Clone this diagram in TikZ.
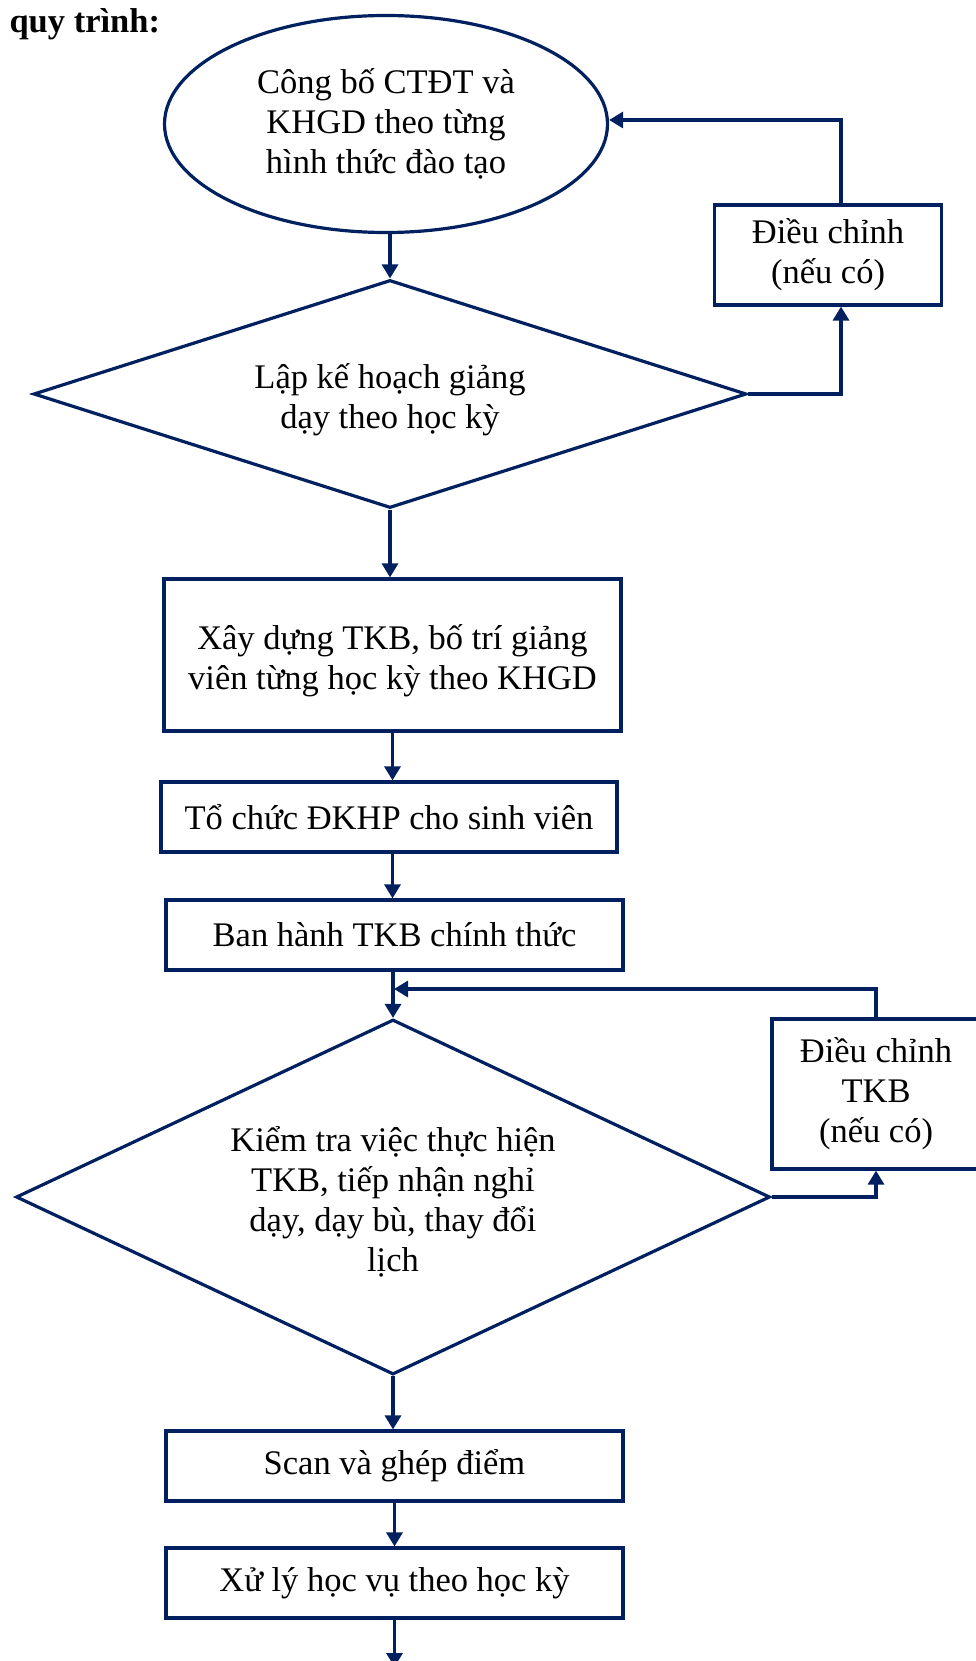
\documentclass[tikz,border=0pt]{standalone}
\usepackage{fontspec}
\setmainfont{Liberation Serif}
\usetikzlibrary{shapes.geometric,arrows.meta,calc}
\definecolor{navy}{RGB}{0,32,96}
\newcommand{\lowtext}[1]{\begin{tabular}{@{}c@{}}\rule{0pt}{40pt}#1\end{tabular}}
\begin{document}
\begin{tikzpicture}[x=1pt,y=-1pt,
  every node/.style={font=\fontsize{34.5}{40}\selectfont, align=center, text=black},
  ln/.style={draw=navy, line width=3.2pt},
  arr/.style={ln, -{Triangle[width=16pt,length=14pt]}},
  procbox/.style={ln, rectangle, inner sep=0pt},
  decide/.style={ln, diamond, inner sep=0pt},
  startshape/.style={ln, ellipse, inner sep=0pt}]
\useasboundingbox (0,0) rectangle (976,1661);
\node[anchor=base west, font=\fontsize{34.5}{40}\selectfont\bfseries] (title) at (6,33) {quy trình:};
\node[startshape, minimum width=443pt, minimum height=217pt] (e) at (386,124) {Công bố CTĐT và\\KHGD theo từng\\hình thức đào tạo};
\node[decide, aspect=3.127, minimum width=713pt, minimum height=228pt] (d1) at (390,394) {\lowtext{Lập kế hoạch giảng\\dạy theo học kỳ}};
\node[procbox, minimum width=227pt, minimum height=100pt] (a1) at (828,255) {Điều chỉnh\\(nếu có)};
\node[procbox, minimum width=457pt, minimum height=152pt] (b1) at (392.5,655) {\lowtext{Xây dựng TKB, bố trí giảng\\viên từng học kỳ theo KHGD}};
\node[procbox, minimum width=456pt, minimum height=70pt] (b2) at (389,817) {Tổ chức ĐKHP cho sinh viên};
\node[procbox, minimum width=457pt, minimum height=70pt] (b3) at (394.5,935) {Ban hành TKB chính thức};
\node[decide, aspect=2.124, minimum width=754pt, minimum height=355pt] (d2) at (393,1197) {\lowtext{Kiểm tra việc thực hiện\\TKB, tiếp nhận nghỉ\\dạy, dạy bù, thay đổi\\lịch}};
\node[procbox, minimum width=208pt, minimum height=150pt] (a2) at (876,1094) {Điều chỉnh\\TKB\\(nếu có)};
\node[procbox, minimum width=457pt, minimum height=70pt] (c1) at (394.5,1466) {Scan và ghép điểm};
\node[procbox, minimum width=457pt, minimum height=70pt] (c2) at (394.5,1583) {Xử lý học vụ theo học kỳ};
\coordinate (j) at (394,989);
\coordinate (endpt) at (394.5,1667);
% main flow
\draw[arr] (d1.north |- e.south) -- (d1.north);
\draw[arr] (d1.south) -- (d1.south |- b1.north);
\draw[arr] (b1.south) -- (b1.south |- b2.north);
\draw[arr] (b1.south |- b2.south) -- (b1.south |- b3.north);
\draw[arr] (d2.north |- b3.south) -- (d2.north);
\draw[arr] (d2.south) -- (d2.south |- c1.north);
\draw[arr] (c1.south) -- (c2.north);
\draw[arr] (c2.south) -- (endpt);
% feedback loops
\draw[arr] (d1.east) -| ([xshift=13pt]a1.south);
\draw[arr] ([xshift=13pt]a1.north) |- ([yshift=4pt]e.east);
\draw[arr] (d2.east) -| (a2.south);
\draw[arr] (a2.north) |- (j);
\end{tikzpicture}
\end{document}
